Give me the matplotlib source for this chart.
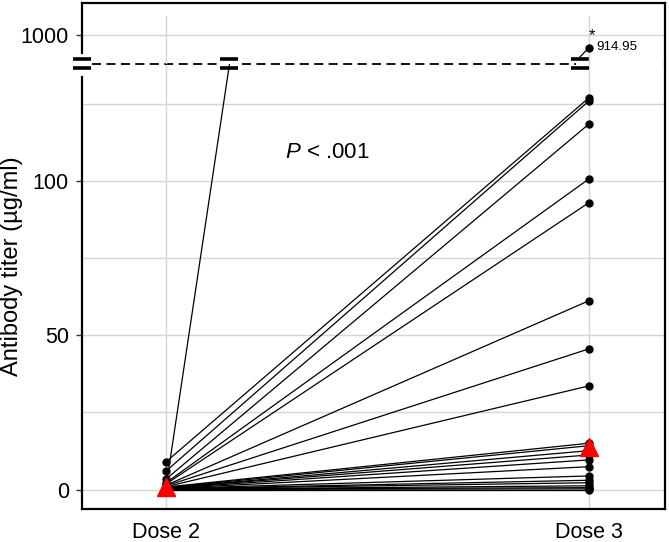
import matplotlib
matplotlib.use('Agg')
import matplotlib.pyplot as plt
from matplotlib.transforms import offset_copy

plt.rcParams['font.family'] = ['Liberation Sans', 'DejaVu Sans']
plt.rcParams['mathtext.fontset'] = 'custom'
plt.rcParams['mathtext.it'] = 'Liberation Sans:italic'
plt.rcParams['mathtext.rm'] = 'Liberation Sans'

# ─── data ────────────────────────────────────────────────────────────────────
doses = ['Dose 2', 'Dose 3']
dose2 = [1.0, 9.0, 6.0, 3.4, 2.2, 1.8, 1.4, 1.2, 0.9, 0.8, 0.6,
         0.5, 0.5, 0.4, 0.3, 0.3, 0.2, 0.2, 0.1, 0.1, 0.0, 0.0]
dose3 = [914.95, 127.0, 126.0, 118.5, 100.7, 93.0, 61.2, 45.6, 33.6, 15.0, 14.2,
         12.6, 11.2, 9.6, 7.4, 4.4, 3.0, 2.2, 1.2, 0.6, 0.2, 0.0]
center = [0.9, 13.9]          # red triangles
outlier_label = '914.95'
p_text = r'$\mathit{P}$ < .001'

lower_ticks = [0, 50, 100]
lower_minor = [25, 75, 125]
upper_ticks = [1000]
lower_lim = (-6.32, 137.97)
upper_lim = (805.7, 1214.4)

W, H = 669, 542
fig = plt.figure(figsize=(W / 100, H / 100), dpi=100)
ax_lo = fig.add_axes([82 / W, (H - 509) / H, 583 / W, 445 / H])
ax_hi = fig.add_axes([82 / W, (H - 64) / H, 583 / W, 61 / H], sharex=ax_lo)
ax_hi.patch.set_visible(False)

xs = [1, 2]
# lower panel: full paired lines
for a, b in zip(dose2, dose3):
    ax_lo.plot(xs, [a, b], color='black', lw=0.9, zorder=3)
    ax_lo.plot(xs, [a, b], 'o', color='black', ms=5, zorder=4)
ax_lo.plot(xs, center, '^', color='#ff0000', ms=13, zorder=5, lw=0)

# upper panel: points above the break, joined to the break mark
hi = [(i, b) for i, b in enumerate(dose3) if b > upper_lim[0]]
px = 1 / 423  # data units per pixel on x
for i, b in hi:
    ax_hi.plot([2 - 9 * px, 2], [b - 9.3 * 6.7, b], color='black', lw=0.9,
               zorder=3)
    ax_hi.plot([2], [b], 'o', color='black', ms=5, zorder=4)

for ax in (ax_lo, ax_hi):
    ax.set_xlim(0.801, 2.18)
    ax.tick_params(axis='y', length=4.5, width=1, labelsize=15.5, pad=5,
                   color='#333333')
    ax.tick_params(axis='y', which='minor', length=0)
    for sp in ax.spines.values():
        sp.set_linewidth(1.6)
        sp.set_color('black')

# vertical grid
ax_lo.vlines(xs, lower_lim[0], lower_lim[1], color='#d6d6d6', lw=1, zorder=1)
ax_hi.axvline(1, ymax=0.787, color='#d6d6d6', lw=1, zorder=1)
ax_hi.axvline(2, ymax=0.787, color='#d6d6d6', lw=1, zorder=1)

ax_lo.set_ylim(*lower_lim)
ax_lo.set_yticks(lower_ticks)
ax_lo.set_yticks(lower_minor, minor=True)
ax_lo.grid(axis='y', which='both', color='#d6d6d6', lw=1, zorder=0)
ax_lo.set_axisbelow(True)
ax_lo.set_xticks(xs)
ax_lo.set_xticklabels(doses)
ax_lo.tick_params(axis='x', length=0, labelsize=15.5, pad=9)
ax_lo.spines['top'].set_visible(False)
ax_lo.spines['left'].set_bounds(lower_lim[0], 133.8)

ax_hi.set_ylim(*upper_lim)
ax_hi.set_yticks(upper_ticks)
ax_hi.grid(axis='y', color='#d6d6d6', lw=1, zorder=0)
ax_hi.set_axisbelow(True)
ax_hi.spines['bottom'].set_visible(False)
ax_hi.spines['left'].set_bounds(879.5, upper_lim[1])
ax_hi.tick_params(axis='x', bottom=False, labelbottom=False)

# outlier annotation
ax_hi.annotate(outlier_label, xy=(2, dose3[0]), xytext=(5.5, 0.5),
               textcoords='offset points', fontsize=9.6, va='center', ha='left')
ax_hi.annotate('*', xy=(2, dose3[0]), xytext=(2, 3),
               textcoords='offset points', fontsize=12, va='bottom', ha='center')

# axis-break marks and dashed break line
top = lower_lim[1]
x_mid = 1 + (top - dose2[0]) / (dose3[0] - dose2[0])
gap = 0.03
ax_lo.plot([0.801 + 0.024, x_mid - gap], [top, top], color='black', lw=1.3,
           ls=(0, (5, 3)), clip_on=False, zorder=6)
ax_lo.plot([x_mid + gap, 2 - gap], [top, top], color='black', lw=1.3,
           ls=(0, (5, 3)), clip_on=False, zorder=6)
for xb, dx in [(0.801, 0), (x_mid, 0), (2, -9)]:
    for dy in (5, -4):
        tr = offset_copy(ax_lo.transData, fig=fig, x=dx, y=dy, units='dots')
        ax_lo.plot([xb], [top], marker='_', ms=13.5, mew=2.6, color='black',
                   transform=tr, clip_on=False, zorder=7)

ax_lo.text(1.281, 107.5, p_text, fontsize=16, ha='left', va='baseline')

fig.text(12 / W, (H - 266) / H, 'Antibody titer (µg/ml)', rotation=90,
         fontsize=17, ha='center', va='center')

fig.savefig('out.png', dpi=100, facecolor='white')
